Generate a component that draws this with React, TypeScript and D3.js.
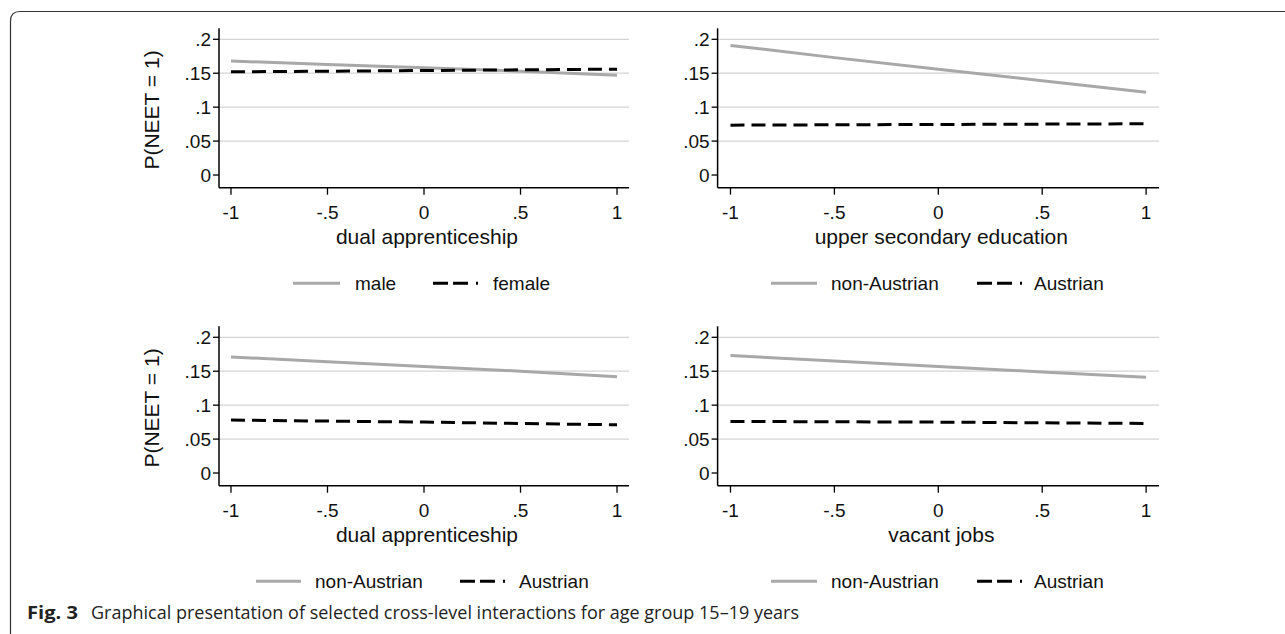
import React from "react";
import * as d3 from "d3";

// ---- data ----
const xTicks = [-1, -0.5, 0, 0.5, 1];
const xTickLabels = ["-1", "-.5", "0", ".5", "1"];
const yTicks = [0, 0.05, 0.1, 0.15, 0.2];
const yTickLabels = ["0", ".05", ".1", ".15", ".2"];
const xPoints = [-1, -0.5, 0, 0.5, 1];

const p1Male = [0.168, 0.163, 0.158, 0.153, 0.147];
const p1Female = [0.152, 0.153, 0.154, 0.155, 0.156];
const p2NonAustrian = [0.191, 0.173, 0.156, 0.139, 0.122];
const p2Austrian = [0.0735, 0.074, 0.0745, 0.075, 0.0755];
const p3NonAustrian = [0.171, 0.164, 0.157, 0.15, 0.142];
const p3Austrian = [0.078, 0.0765, 0.075, 0.073, 0.071];
const p4NonAustrian = [0.173, 0.165, 0.157, 0.149, 0.141];
const p4Austrian = [0.076, 0.0755, 0.075, 0.074, 0.073];

const xTitles = ["dual apprenticeship", "upper secondary education", "dual apprenticeship", "vacant jobs"];
const legend1 = ["male", "female"];
const legend2 = ["non-Austrian", "Austrian"];
const yTitle = "P(NEET = 1)";
const captionBold = "Fig. 3";
const captionText = "Graphical presentation of selected cross-level interactions for age group 15\u201319 years";

const FONT = "Arial, 'Liberation Sans', Helvetica, sans-serif";
const GRAY = "#a8a8a8";
const GRID = "#d4d4d4";

type PanelProps = {
  left: number; right: number; top: number; bottom: number;
  solid: number[]; dashed: number[];
  xTitle: string; legend: string[]; showYTitle: boolean;
  leg: { s0: number; s1: number; t1: number; d0: number; d1: number; t2: number };
};

function Panel(p: PanelProps) {
  const x = d3.scaleLinear().domain([-1.062, 1.062]).range([p.left, p.right]);
  const y = d3.scaleLinear().domain([-0.0187, 0.2162]).range([p.bottom, p.top]);
  const line = d3.line<number>().x((_, i) => x(xPoints[i])).y((v) => y(v));
  const legY = p.bottom + 95.5;
  return (
    <g>
      {yTicks.filter((t) => t > 0).map((t) => (
        <line key={"g" + t} x1={p.left} x2={p.right} y1={y(t)} y2={y(t)} stroke={GRID} strokeWidth={1.2} />
      ))}
      <path d={line(p.solid) || ""} fill="none" stroke={GRAY} strokeWidth={3} />
      <path d={line(p.dashed) || ""} fill="none" stroke="#000" strokeWidth={3} strokeDasharray="14 7" />
      <line x1={p.left} x2={p.left} y1={p.top} y2={p.bottom} stroke="#000" strokeWidth={1.5} />
      <line x1={p.left} x2={p.right} y1={p.bottom} y2={p.bottom} stroke="#000" strokeWidth={1.5} />
      {yTicks.map((t, i) => (
        <g key={"y" + t}>
          <line x1={p.left - 6} x2={p.left} y1={y(t)} y2={y(t)} stroke="#000" strokeWidth={1.3} />
          <text x={p.left - 8} y={y(t) + 7} textAnchor="end" fontSize={19} fontFamily={FONT} fill="#111">{yTickLabels[i]}</text>
        </g>
      ))}
      {xTicks.map((t, i) => (
        <g key={"x" + t}>
          <line x1={x(t)} x2={x(t)} y1={p.bottom} y2={p.bottom + 7} stroke="#000" strokeWidth={1.3} />
          <text x={x(t)} y={p.bottom + 31.5} textAnchor="middle" fontSize={19} fontFamily={FONT} fill="#111">{xTickLabels[i]}</text>
        </g>
      ))}
      <text x={(p.left + p.right) / 2 + 3} y={p.bottom + 56.5} textAnchor="middle" fontSize={21} fontFamily={FONT} fill="#111">{p.xTitle}</text>
      {p.showYTitle && (
        <text transform={`translate(${p.left - 60},${(p.top + p.bottom) / 2 + 2}) rotate(-90)`} textAnchor="middle" fontSize={21} fontFamily={FONT} fill="#111">{yTitle}</text>
      )}
      <line x1={p.leg.s0} x2={p.leg.s1} y1={legY} y2={legY} stroke={GRAY} strokeWidth={3} />
      <text x={p.leg.t1} y={legY + 7} fontSize={19} fontFamily={FONT} fill="#111">{p.legend[0]}</text>
      <line x1={p.leg.d0} x2={p.leg.d1} y1={legY} y2={legY} stroke="#000" strokeWidth={3} strokeDasharray="15 5 15 8 2 100" />
      <text x={p.leg.t2} y={legY + 7} fontSize={19} fontFamily={FONT} fill="#111">{p.legend[1]}</text>
    </g>
  );
}

export default function App() {
  const shift = 298;
  const L = { left: 219, right: 629 };
  const R = { left: 717.6, right: 1159 };
  const top = 28.3, bottom = 187.7;
  const legL1 = { s0: 293, s1: 340, t1: 355, d0: 433, d1: 478, t2: 493 };
  const legR = { s0: 771, s1: 817, t1: 831, d0: 977, d1: 1022, t2: 1034 };
  const legL2 = { s0: 256, s1: 301, t1: 315, d0: 460, d1: 506, t2: 519 };
  return (
    <svg width={1285} height={634} style={{ position: "absolute", left: 0, top: 0, background: "#fff" }}>
      <path d="M 10.5 634 L 10.5 21 Q 10.5 11.5 20 11.5 L 1285 11.5" fill="none" stroke="#333" strokeWidth={1.2} />
      <Panel {...L} top={top} bottom={bottom} solid={p1Male} dashed={p1Female} xTitle={xTitles[0]} legend={legend1} showYTitle={true} leg={legL1} />
      <Panel {...R} top={top} bottom={bottom} solid={p2NonAustrian} dashed={p2Austrian} xTitle={xTitles[1]} legend={legend2} showYTitle={false} leg={legR} />
      <Panel {...L} top={top + shift} bottom={bottom + shift} solid={p3NonAustrian} dashed={p3Austrian} xTitle={xTitles[2]} legend={legend2} showYTitle={true} leg={legL2} />
      <Panel {...R} top={top + shift} bottom={bottom + shift} solid={p4NonAustrian} dashed={p4Austrian} xTitle={xTitles[3]} legend={legend2} showYTitle={false} leg={legR} />
      <text x={27} y={619} fontSize={17.5} fontFamily="'Open Sans', 'Noto Sans', sans-serif" fontWeight="bold" fill="#222" textLength={51} lengthAdjust="spacingAndGlyphs">{captionBold}</text>
      <text x={91} y={619} fontSize={17.5} fontFamily="'Open Sans', 'Noto Sans', sans-serif" fill="#222" textLength={708} lengthAdjust="spacingAndGlyphs">{captionText}</text>
    </svg>
  );
}
